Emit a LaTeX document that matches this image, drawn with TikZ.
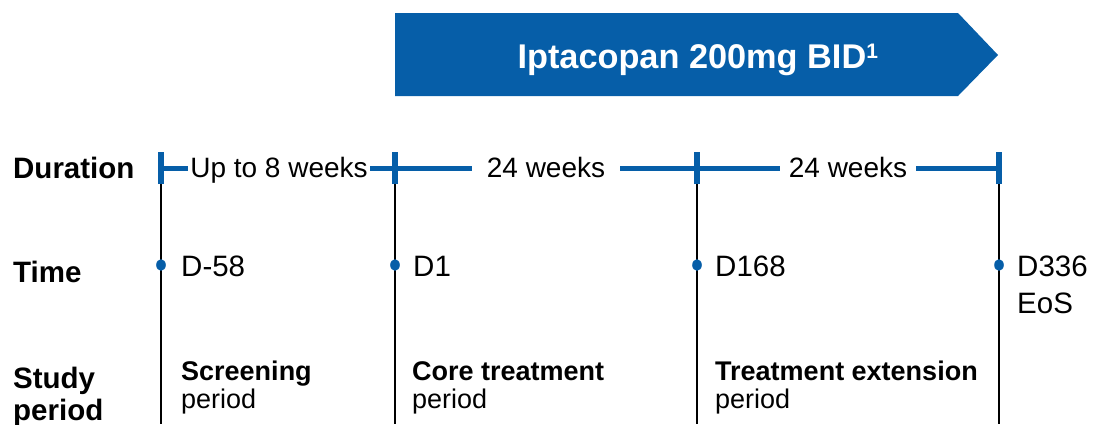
\documentclass[tikz,border=0pt]{standalone}
\usepackage{fontspec}
\setmainfont{Liberation Sans}
\definecolor{nblue}{RGB}{6,94,168}
\begin{document}
\begin{tikzpicture}[x=1pt,y=-1pt,
  lbl/.style={anchor=base west,inner sep=0pt,font=\fontsize{29.5}{32}\selectfont\bfseries},
  txt/.style={anchor=base west,inner sep=0pt,font=\fontsize{29.5}{32}\selectfont},
  dur/.style={anchor=base,inner sep=0pt,fill=white,inner xsep=0pt,font=\fontsize{28}{30}\selectfont},
  per/.style={anchor=base west,inner sep=0pt,font=\fontsize{27}{30}\selectfont},
  bar/.style={draw=nblue,line width=5pt},
  tick/.style={draw=nblue,line width=6pt},
  vline/.style={draw=black,line width=1.3pt},
  dotfill/.style={fill=nblue}]
\useasboundingbox (0,0) rectangle (1095,424);
% arrow banner
\fill[nblue] (395,13) -- (958,13) -- (998,55) -- (958,96) -- (395,96) -- cycle;
\node[anchor=base,inner sep=0pt,text=white,font=\fontsize{34.3}{36}\selectfont\bfseries] (title) at (698,68) {Iptacopan 200mg BID\textsuperscript{\fontsize{21}{22}\selectfont 1}};
% tick coordinates
\coordinate (t1) at (161,168); \coordinate (t2) at (395,168);
\coordinate (t3) at (697,168); \coordinate (t4) at (999,168);
\coordinate (b1) at (161,424); \coordinate (b2) at (395,424);
\coordinate (b3) at (697,424); \coordinate (b4) at (999,424);
% vertical lines
\foreach \i in {1,2,3,4} \draw[vline] (t\i) -- (b\i);
% duration bar
\draw[bar] (t1) -- (t4);
\foreach \i in {1,2,3,4} \draw[tick] ([yshift=-16pt]t\i) -- ([yshift=16pt]t\i);
\node[dur,inner xsep=2pt] (d1) at (279,177) {Up to 8 weeks};
\node[dur,inner xsep=15pt] (d2) at (546,177) {24 weeks};
\node[dur,inner xsep=9pt] (d3) at (848,177) {24 weeks};
% row labels
\node[lbl] (ldur) at (13,178) {Duration};
\node[lbl] (ltime) at (13,282) {Time};
\node[lbl] (lstudy) at (13,388) {Study};
\node[lbl] (lper) at (13,420) {period};
% time dots
\foreach \i/\x in {1/161,2/395,3/697,4/999} {
  \coordinate (p\i) at (\x,265);
  \fill[dotfill] (p\i) ellipse [x radius=4.8pt, y radius=5.8pt];
}
\node[txt] (tm1) at (181,276) {D-58};
\node[txt] (tm2) at (413,276) {D1};
\node[txt] (tm3) at (715,276) {D168};
\node[txt] (tm4) at (1017,276) {D336};
\node[txt] (tm5) at (1017,313) {EoS};
% study periods
\node[per,font=\fontsize{27}{30}\selectfont\bfseries] (s1) at (181,380) {Screening};
\node[per] (s1b) at (181,408) {period};
\node[per,font=\fontsize{27}{30}\selectfont\bfseries] (s2) at (412,380) {Core treatment};
\node[per] (s2b) at (412,408) {period};
\node[per,font=\fontsize{27}{30}\selectfont\bfseries] (s3) at (715,380) {Treatment extension};
\node[per] (s3b) at (715,408) {period};
\end{tikzpicture}
\end{document}
